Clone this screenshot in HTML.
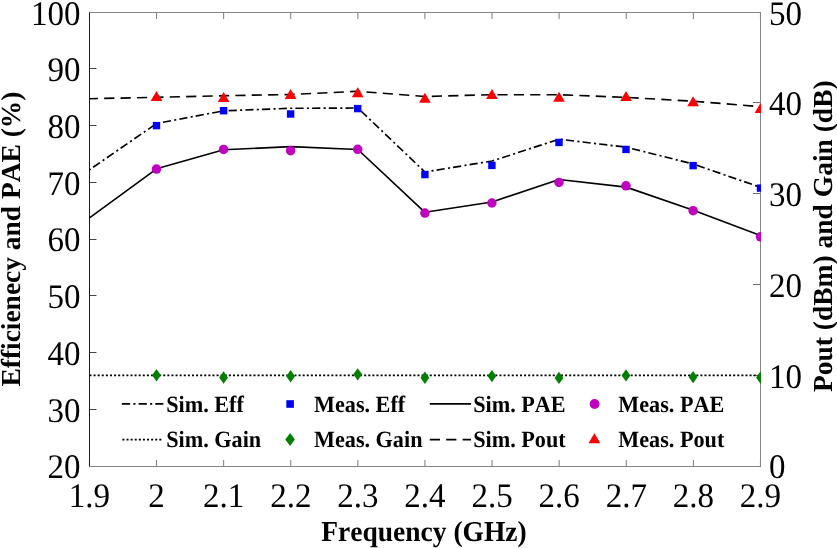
<!DOCTYPE html>
<html><head><meta charset="utf-8"><title>Efficiency, PAE, Pout and Gain vs Frequency</title>
<style>html,body{margin:0;padding:0;background:#fff;}body{width:837px;height:548px;overflow:hidden;}svg{display:block;font-family:"Liberation Serif",serif;will-change:transform;text-rendering:geometricPrecision;font-kerning:none;}.tk{font-size:33px;}.lb{font-size:27.5px;font-weight:bold;}.lg{font-size:22.2px;font-weight:bold;}</style></head><body>
<svg width="837" height="548" viewBox="0 0 837 548">
<rect width="837" height="548" fill="#fff"/>
<defs><clipPath id="c"><rect x="89" y="12" width="672" height="455"/></clipPath></defs>
<line x1="89.45" y1="466.5" x2="89.45" y2="460.0" stroke="#7a7a7a" stroke-width="1"/>
<line x1="89.45" y1="12.5" x2="89.45" y2="19.0" stroke="#7a7a7a" stroke-width="1"/>
<line x1="156.55" y1="466.5" x2="156.55" y2="460.0" stroke="#7a7a7a" stroke-width="1"/>
<line x1="156.55" y1="12.5" x2="156.55" y2="19.0" stroke="#7a7a7a" stroke-width="1"/>
<line x1="223.65" y1="466.5" x2="223.65" y2="460.0" stroke="#7a7a7a" stroke-width="1"/>
<line x1="223.65" y1="12.5" x2="223.65" y2="19.0" stroke="#7a7a7a" stroke-width="1"/>
<line x1="290.75" y1="466.5" x2="290.75" y2="460.0" stroke="#7a7a7a" stroke-width="1"/>
<line x1="290.75" y1="12.5" x2="290.75" y2="19.0" stroke="#7a7a7a" stroke-width="1"/>
<line x1="357.85" y1="466.5" x2="357.85" y2="460.0" stroke="#7a7a7a" stroke-width="1"/>
<line x1="357.85" y1="12.5" x2="357.85" y2="19.0" stroke="#7a7a7a" stroke-width="1"/>
<line x1="424.95" y1="466.5" x2="424.95" y2="460.0" stroke="#7a7a7a" stroke-width="1"/>
<line x1="424.95" y1="12.5" x2="424.95" y2="19.0" stroke="#7a7a7a" stroke-width="1"/>
<line x1="492.05" y1="466.5" x2="492.05" y2="460.0" stroke="#7a7a7a" stroke-width="1"/>
<line x1="492.05" y1="12.5" x2="492.05" y2="19.0" stroke="#7a7a7a" stroke-width="1"/>
<line x1="559.15" y1="466.5" x2="559.15" y2="460.0" stroke="#7a7a7a" stroke-width="1"/>
<line x1="559.15" y1="12.5" x2="559.15" y2="19.0" stroke="#7a7a7a" stroke-width="1"/>
<line x1="626.25" y1="466.5" x2="626.25" y2="460.0" stroke="#7a7a7a" stroke-width="1"/>
<line x1="626.25" y1="12.5" x2="626.25" y2="19.0" stroke="#7a7a7a" stroke-width="1"/>
<line x1="693.35" y1="466.5" x2="693.35" y2="460.0" stroke="#7a7a7a" stroke-width="1"/>
<line x1="693.35" y1="12.5" x2="693.35" y2="19.0" stroke="#7a7a7a" stroke-width="1"/>
<line x1="760.45" y1="466.5" x2="760.45" y2="460.0" stroke="#7a7a7a" stroke-width="1"/>
<line x1="760.45" y1="12.5" x2="760.45" y2="19.0" stroke="#7a7a7a" stroke-width="1"/>
<line x1="89.5" y1="466.50" x2="96.5" y2="466.50" stroke="#444" stroke-width="1"/>
<line x1="89.5" y1="409.50" x2="96.5" y2="409.50" stroke="#444" stroke-width="1"/>
<line x1="89.5" y1="352.50" x2="96.5" y2="352.50" stroke="#444" stroke-width="1"/>
<line x1="89.5" y1="295.50" x2="96.5" y2="295.50" stroke="#444" stroke-width="1"/>
<line x1="89.5" y1="239.50" x2="96.5" y2="239.50" stroke="#444" stroke-width="1"/>
<line x1="89.5" y1="182.50" x2="96.5" y2="182.50" stroke="#444" stroke-width="1"/>
<line x1="89.5" y1="125.50" x2="96.5" y2="125.50" stroke="#444" stroke-width="1"/>
<line x1="89.5" y1="68.50" x2="96.5" y2="68.50" stroke="#444" stroke-width="1"/>
<line x1="89.5" y1="12.50" x2="96.5" y2="12.50" stroke="#444" stroke-width="1"/>
<line x1="760.5" y1="466.50" x2="753.0" y2="466.50" stroke="#6a6a6a" stroke-width="1"/>
<line x1="760.5" y1="375.50" x2="753.0" y2="375.50" stroke="#6a6a6a" stroke-width="1"/>
<line x1="760.5" y1="284.50" x2="753.0" y2="284.50" stroke="#6a6a6a" stroke-width="1"/>
<line x1="760.5" y1="193.50" x2="753.0" y2="193.50" stroke="#6a6a6a" stroke-width="1"/>
<line x1="760.5" y1="102.50" x2="753.0" y2="102.50" stroke="#6a6a6a" stroke-width="1"/>
<line x1="760.5" y1="12.50" x2="753.0" y2="12.50" stroke="#6a6a6a" stroke-width="1"/>
<line x1="89.5" y1="12.0" x2="89.5" y2="466.5" stroke="#1e1e1e" stroke-width="1"/>
<line x1="89.5" y1="12.5" x2="760.5" y2="12.5" stroke="#868686" stroke-width="1"/>
<line x1="89.5" y1="466.5" x2="760.5" y2="466.5" stroke="#858585" stroke-width="1"/>
<line x1="760.5" y1="12.0" x2="760.5" y2="467.0" stroke="#858585" stroke-width="1"/>
<g clip-path="url(#c)">
<polyline points="89.45,375.40 156.55,375.40 223.65,375.40 290.75,375.40 357.85,375.40 424.95,375.40 492.05,375.40 559.15,375.40 626.25,375.40 693.35,375.40 760.45,375.40" fill="none" stroke="#000" stroke-width="1.65" stroke-dasharray="2.05 2.05" />
<polyline points="89.45,217.90 156.55,168.80 223.65,149.80 290.75,146.60 357.85,149.50 424.95,212.30 492.05,202.00 559.15,179.50 626.25,187.10 693.35,210.30 760.45,235.50" fill="none" stroke="#000" stroke-width="1.65" stroke-linejoin="round"/>
<polyline points="89.45,169.80 156.55,123.50 223.65,110.80 290.75,108.30 357.85,108.00 424.95,172.00 492.05,161.00 559.15,139.20 626.25,147.20 693.35,164.00 760.45,187.30" fill="none" stroke="#000" stroke-width="1.65" stroke-dasharray="8.2 3.3 2.1 3.1" stroke-dashoffset="12.2"/>
<polyline points="89.45,98.70 156.55,97.30 223.65,95.70 290.75,94.50 357.85,91.30 424.95,96.50 492.05,94.70 559.15,94.70 626.25,97.40 693.35,101.20 760.45,106.70" fill="none" stroke="#000" stroke-width="1.65" stroke-dasharray="10.2 6.2" stroke-dashoffset="1.7"/>
<polygon points="156.50,369.10 160.90,375.30 156.50,381.50 152.10,375.30" fill="#007f00"/>
<polygon points="223.60,371.30 228.00,377.50 223.60,383.70 219.20,377.50" fill="#007f00"/>
<polygon points="290.60,370.00 295.00,376.20 290.60,382.40 286.20,376.20" fill="#007f00"/>
<polygon points="357.70,368.15 362.10,374.35 357.70,380.55 353.30,374.35" fill="#007f00"/>
<polygon points="424.90,371.55 429.30,377.75 424.90,383.95 420.50,377.75" fill="#007f00"/>
<polygon points="491.90,369.90 496.30,376.10 491.90,382.30 487.50,376.10" fill="#007f00"/>
<polygon points="559.00,371.70 563.40,377.90 559.00,384.10 554.60,377.90" fill="#007f00"/>
<polygon points="626.00,369.20 630.40,375.40 626.00,381.60 621.60,375.40" fill="#007f00"/>
<polygon points="693.10,370.90 697.50,377.10 693.10,383.30 688.70,377.10" fill="#007f00"/>
<polygon points="760.50,371.40 764.90,377.60 760.50,383.80 756.10,377.60" fill="#007f00"/>
<circle cx="156.50" cy="169.10" r="4.75" fill="#bf00bf"/>
<circle cx="223.60" cy="149.40" r="4.75" fill="#bf00bf"/>
<circle cx="290.60" cy="150.70" r="4.75" fill="#bf00bf"/>
<circle cx="357.70" cy="149.35" r="4.75" fill="#bf00bf"/>
<circle cx="424.90" cy="213.05" r="4.75" fill="#bf00bf"/>
<circle cx="491.90" cy="203.00" r="4.75" fill="#bf00bf"/>
<circle cx="559.00" cy="182.40" r="4.75" fill="#bf00bf"/>
<circle cx="626.00" cy="185.85" r="4.75" fill="#bf00bf"/>
<circle cx="693.10" cy="210.70" r="4.75" fill="#bf00bf"/>
<circle cx="760.50" cy="236.80" r="4.75" fill="#bf00bf"/>
<rect x="152.80" y="121.90" width="7.4" height="7.4" fill="#0000ff"/>
<rect x="219.90" y="107.00" width="7.4" height="7.4" fill="#0000ff"/>
<rect x="286.90" y="110.30" width="7.4" height="7.4" fill="#0000ff"/>
<rect x="354.00" y="104.90" width="7.4" height="7.4" fill="#0000ff"/>
<rect x="421.20" y="170.85" width="7.4" height="7.4" fill="#0000ff"/>
<rect x="488.20" y="161.70" width="7.4" height="7.4" fill="#0000ff"/>
<rect x="555.30" y="138.75" width="7.4" height="7.4" fill="#0000ff"/>
<rect x="622.30" y="145.75" width="7.4" height="7.4" fill="#0000ff"/>
<rect x="689.40" y="161.90" width="7.4" height="7.4" fill="#0000ff"/>
<rect x="756.80" y="184.40" width="7.4" height="7.4" fill="#0000ff"/>
<polygon points="156.50,90.95 162.35,100.95 150.65,100.95" fill="#ff0000"/>
<polygon points="223.60,91.95 229.45,101.95 217.75,101.95" fill="#ff0000"/>
<polygon points="290.60,89.10 296.45,99.10 284.75,99.10" fill="#ff0000"/>
<polygon points="357.70,87.25 363.55,97.25 351.85,97.25" fill="#ff0000"/>
<polygon points="424.90,92.70 430.75,102.70 419.05,102.70" fill="#ff0000"/>
<polygon points="491.90,89.00 497.75,99.00 486.05,99.00" fill="#ff0000"/>
<polygon points="559.00,91.80 564.85,101.80 553.15,101.80" fill="#ff0000"/>
<polygon points="626.00,90.90 631.85,100.90 620.15,100.90" fill="#ff0000"/>
<polygon points="693.10,96.25 698.95,106.25 687.25,106.25" fill="#ff0000"/>
<polygon points="760.50,102.90 766.35,112.90 754.65,112.90" fill="#ff0000"/>
</g>
<text class="tk" transform="translate(80.40,478.40) scale(1,1.045)" text-anchor="end">20</text>
<text class="tk" transform="translate(80.40,421.66) scale(1,1.045)" text-anchor="end">30</text>
<text class="tk" transform="translate(80.40,364.93) scale(1,1.045)" text-anchor="end">40</text>
<text class="tk" transform="translate(80.40,308.19) scale(1,1.045)" text-anchor="end">50</text>
<text class="tk" transform="translate(80.40,251.45) scale(1,1.045)" text-anchor="end">60</text>
<text class="tk" transform="translate(80.40,194.71) scale(1,1.045)" text-anchor="end">70</text>
<text class="tk" transform="translate(80.40,137.97) scale(1,1.045)" text-anchor="end">80</text>
<text class="tk" transform="translate(80.40,81.24) scale(1,1.045)" text-anchor="end">90</text>
<text class="tk" transform="translate(80.40,24.50) scale(1,1.045)" text-anchor="end">100</text>
<text class="tk" transform="translate(769.00,478.40) scale(1,1.045)">0</text>
<text class="tk" transform="translate(769.00,387.62) scale(1,1.045)">10</text>
<text class="tk" transform="translate(769.00,296.84) scale(1,1.045)">20</text>
<text class="tk" transform="translate(769.00,206.06) scale(1,1.045)">30</text>
<text class="tk" transform="translate(769.00,115.28) scale(1,1.045)">40</text>
<text class="tk" transform="translate(769.00,24.50) scale(1,1.045)">50</text>
<text class="tk" transform="translate(89.45,506.90) scale(1,1.045)" text-anchor="middle">1.9</text>
<text class="tk" transform="translate(156.55,506.90) scale(1,1.045)" text-anchor="middle">2</text>
<text class="tk" transform="translate(223.65,506.90) scale(1,1.045)" text-anchor="middle">2.1</text>
<text class="tk" transform="translate(290.75,506.90) scale(1,1.045)" text-anchor="middle">2.2</text>
<text class="tk" transform="translate(357.85,506.90) scale(1,1.045)" text-anchor="middle">2.3</text>
<text class="tk" transform="translate(424.95,506.90) scale(1,1.045)" text-anchor="middle">2.4</text>
<text class="tk" transform="translate(492.05,506.90) scale(1,1.045)" text-anchor="middle">2.5</text>
<text class="tk" transform="translate(559.15,506.90) scale(1,1.045)" text-anchor="middle">2.6</text>
<text class="tk" transform="translate(626.25,506.90) scale(1,1.045)" text-anchor="middle">2.7</text>
<text class="tk" transform="translate(693.35,506.90) scale(1,1.045)" text-anchor="middle">2.8</text>
<text class="tk" transform="translate(760.45,506.90) scale(1,1.045)" text-anchor="middle">2.9</text>
<text class="lb" transform="translate(424.00,540.80) scale(1,1.05)" text-anchor="middle">Frequency (GHz)</text>
<text class="lb" style="font-size:27.45px" transform="translate(19.7,239.1) rotate(-90)" text-anchor="middle">Efficienecy and PAE (%)</text>
<text class="lb" transform="translate(832,236.2) rotate(-90)" text-anchor="middle">Pout (dBm) and Gain (dB)</text>
<line x1="121.9" y1="403.8" x2="163.4" y2="403.8" stroke="#000" stroke-width="1.65" stroke-dasharray="8.2 3.3 2.1 3.1"/>
<line x1="122.4" y1="439.6" x2="163" y2="439.6" stroke="#000" stroke-width="1.65" stroke-dasharray="2.05 2.05"/>
<line x1="429.8" y1="403.8" x2="471" y2="403.8" stroke="#000" stroke-width="1.65"/>
<line x1="429.8" y1="439.6" x2="471" y2="439.6" stroke="#000" stroke-width="1.65" stroke-dasharray="10.2 6.2"/>
<rect x="286.30" y="400.20" width="7.6" height="7.6" fill="#0000ff"/>
<polygon points="290.10,433.10 294.90,439.50 290.10,445.90 285.30,439.50" fill="#007f00"/>
<circle cx="594.60" cy="404.00" r="4.9" fill="#bf00bf"/>
<polygon points="594.40,433.30 600.30,443.30 588.50,443.30" fill="#ff0000"/>
<text class="lg" transform="translate(166.20,411.90) scale(1,1.05)">Sim. Eff</text>
<text class="lg" transform="translate(166.20,446.80) scale(1,1.05)">Sim. Gain</text>
<text class="lg" transform="translate(314.00,411.90) scale(1,1.05)">Meas. Eff</text>
<text class="lg" transform="translate(314.00,446.80) scale(1,1.05)">Meas. Gain</text>
<text class="lg" transform="translate(473.20,411.90) scale(1,1.05)">Sim. PAE</text>
<text class="lg" transform="translate(473.20,446.80) scale(1,1.05)">Sim. Pout</text>
<text class="lg" transform="translate(618.30,411.90) scale(1,1.05)">Meas. PAE</text>
<text class="lg" transform="translate(618.30,446.80) scale(1,1.05)">Meas. Pout</text>
</svg></body></html>
